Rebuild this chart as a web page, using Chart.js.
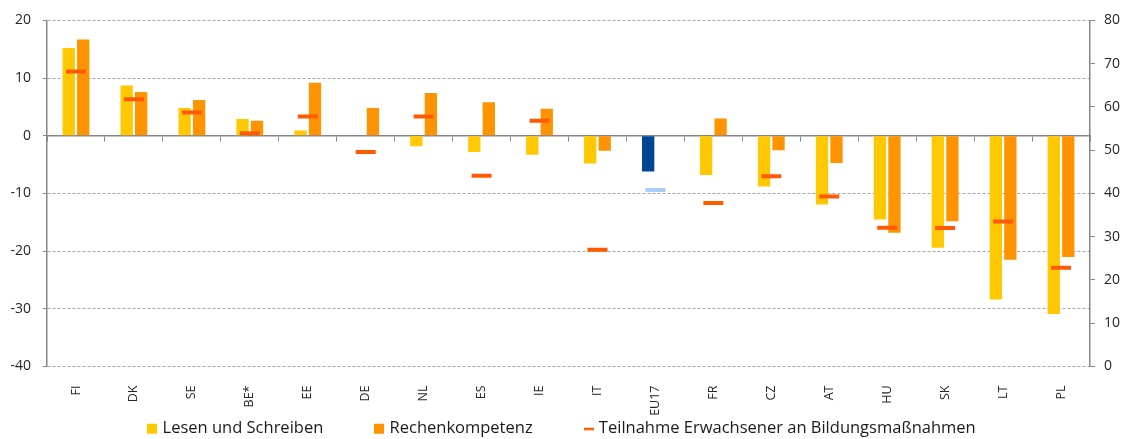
<!DOCTYPE html>
<html>
<head>
<meta charset="utf-8">
<script src="https://cdn.jsdelivr.net/npm/chart.js@4"></script>
<style>
  html, body { margin: 0; padding: 0; background: #fff; }
  #wrap { width: 1126px; height: 439px; }
</style>
</head>
<body>
<div id="wrap"><canvas id="chart"></canvas></div>
<script>
const countries = ['FI', 'DK', 'SE', 'BE*', 'EE', 'DE', 'NL', 'ES', 'IE', 'IT', 'EU17', 'FR', 'CZ', 'AT', 'HU', 'SK', 'LT', 'PL'];
const lesen = [15.2, 8.7, 4.8, 2.9, 0.9, null, -1.8, -2.8, -3.3, -4.8, -6.2, -6.8, -8.8, -11.9, -14.5, -19.4, -28.4, -30.9];
const rechnen = [16.7, 7.6, 6.2, 2.6, 9.2, 4.8, 7.4, 5.8, 4.7, -2.6, null, 3.0, -2.5, -4.7, -16.8, -14.8, -21.5, -21.0];
const teilnahme = [68.2, 61.8, 58.7, 53.9, 57.8, 49.6, 57.8, 44.1, 56.8, 27.0, 40.8, 37.8, 44.0, 39.3, 32.1, 32.0, 33.5, 22.8];

const yellow = '#ffc800';
const orange = '#ff9400';
const red = '#ff5a00';
const gridGray = '#a6a6a6';
const axisGray = '#868686';
const font = "'Open Sans', sans-serif";

Chart.defaults.font.family = font;
Chart.defaults.color = '#404040';

// small legend marks (square boxes and a short dash)
function legendMark(kind, color) {
  const c = document.createElement('canvas');
  c.width = 10;
  c.height = 14;
  const g = c.getContext('2d');
  g.fillStyle = color;
  if (kind === 'rect') g.fillRect(0, 2, 10, 10);
  else g.fillRect(0, 6, 10, 2.5);
  return c;
}
const marks = [legendMark('rect', yellow), legendMark('rect', orange), legendMark('line', red)];

new Chart(document.getElementById('chart'), {
  type: 'bar',
  data: {
    labels: countries,
    datasets: [
      {
        label: 'Lesen und Schreiben',
        data: lesen,
        backgroundColor: countries.map(c => c === 'EU17' ? '#004494' : yellow),
        categoryPercentage: 0.5,
        barPercentage: 0.85,
        order: 1
      },
      {
        label: 'Rechenkompetenz',
        data: rechnen,
        backgroundColor: orange,
        categoryPercentage: 0.5,
        barPercentage: 0.85,
        order: 1
      },
      {
        type: 'line',
        label: 'Teilnahme Erwachsener an Bildungsmaßnahmen',
        data: teilnahme,
        yAxisID: 'y2',
        showLine: false,
        pointStyle: 'line',
        pointRadius: 10,
        pointHoverRadius: 10,
        pointBorderWidth: 4,
        pointBorderColor: countries.map(c => c === 'EU17' ? '#a9cdf5' : red),
        borderColor: red,
        backgroundColor: red,
        order: 0
      }
    ]
  },
  options: {
    responsive: true,
    maintainAspectRatio: false,
    animation: false,
    layout: { padding: { top: 11, bottom: -8 } },
    plugins: {
      legend: {
        position: 'bottom',
        labels: {
          usePointStyle: true,
          pointStyleWidth: 4,
          boxHeight: 14,
          padding: 54,
          color: '#1a1a1a',
          font: { size: 16.5 },
          generateLabels(chart) {
            const items = Chart.defaults.plugins.legend.labels.generateLabels(chart);
            items.sort((a, b) => a.datasetIndex - b.datasetIndex);
            items.forEach(it => { it.pointStyle = marks[it.datasetIndex]; });
            return items;
          }
        }
      },
      tooltip: { enabled: false }
    },
    scales: {
      x: {
        position: { y: -40 },
        grid: { display: false },
        border: { display: false },
        ticks: {
          maxRotation: 90,
          minRotation: 90,
          color: '#262626',
          font: { size: 12.5 },
          padding: 11
        }
      },
      x2: {
        type: 'category',
        position: { y: 0 },
        offset: true,
        grid: { offset: true, drawOnChartArea: false, drawTicks: true, tickLength: 5, color: axisGray },
        border: { display: true, color: axisGray, width: 1.5 },
        ticks: { display: false }
      },
      y: {
        min: -40,
        max: 20,
        ticks: { stepSize: 10, color: '#262626', font: { size: 14 }, padding: 12 },
        grid: {
          color: ctx => ctx.tick && ctx.tick.value === 0 ? axisGray : gridGray,
          tickLength: 4,
          tickColor: axisGray
        },
        border: { display: true, color: axisGray, width: 1.5, dash: [3, 2] },
        afterFit: s => { s.width = 47; }
      },
      y2: {
        position: 'right',
        min: 0,
        max: 80,
        ticks: { stepSize: 10, color: '#262626', font: { size: 14 }, padding: 9 },
        grid: { drawOnChartArea: false, tickLength: 5, color: axisGray },
        border: { display: true, color: axisGray, width: 1.5 },
        afterFit: s => { s.width = 36; }
      }
    }
  }
});
</script>
</body>
</html>
